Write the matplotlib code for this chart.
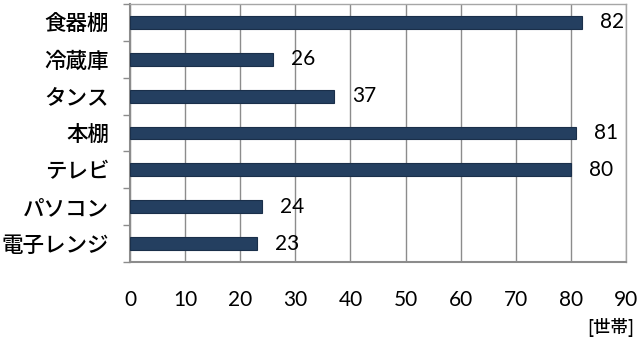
import matplotlib
matplotlib.use("Agg")
import matplotlib.pyplot as plt

categories = ["食器棚", "冷蔵庫", "タンス", "本棚", "テレビ", "パソコン", "電子レンジ"]
values = [82, 26, 37, 81, 80, 24, 23]
xticks = [0, 10, 20, 30, 40, 50, 60, 70, 80, 90]
unit = "[世帯]"

plt.rcParams['font.family'] = ['Noto Sans CJK JP', 'DejaVu Sans']

W, H = 640, 340
fig = plt.figure(figsize=(W/100, H/100), dpi=100)
ax = fig.add_axes([130/W, 1-262/H, (626-130)/W, (262-4)/H])

n = len(categories)
pos = list(range(n))
ax.barh(pos, values, height=0.35, color="#243F60", edgecolor="#1a2f4a", linewidth=0.8, zorder=3)
ax.set_ylim(n-0.5, -0.5)
ax.set_xlim(0, 90)

numfont = ['Lato', 'DejaVu Sans']
ax.set_xticks(xticks)
ax.set_xticklabels([str(t) for t in xticks], family=numfont, fontsize=15)
ax.tick_params(axis='x', length=0, pad=20)
ax.grid(axis='x', color='#8c8c8c', linewidth=1.0, zorder=0)

ax.set_yticks([p - 0.5 for p in range(n+1)], minor=False)
ax.set_yticklabels([])
ax.set_yticks(pos, minor=True)
ax.set_yticklabels(categories, minor=True, fontsize=15.5, fontweight='medium')
ax.tick_params(axis='y', which='minor', length=0, pad=15)
ax.tick_params(axis='y', which='major', length=5, color='#8c8c8c', width=1)

for s in ['top', 'right']:
    ax.spines[s].set_color('#a6a6a6')
    ax.spines[s].set_linewidth(1)
for s in ['left', 'bottom']:
    ax.spines[s].set_color('#8c8c8c')
    ax.spines[s].set_linewidth(1.5)

for p, v in zip(pos, values):
    ax.annotate(str(v), (v, p), xytext=(13, 0), textcoords='offset points',
                va='center', ha='left', fontsize=15, family=numfont)

fig.text(611/W, 1-327/H, unit, ha='center', va='center', fontsize=12.5, fontweight='medium')

fig.savefig("out.png", dpi=100)
